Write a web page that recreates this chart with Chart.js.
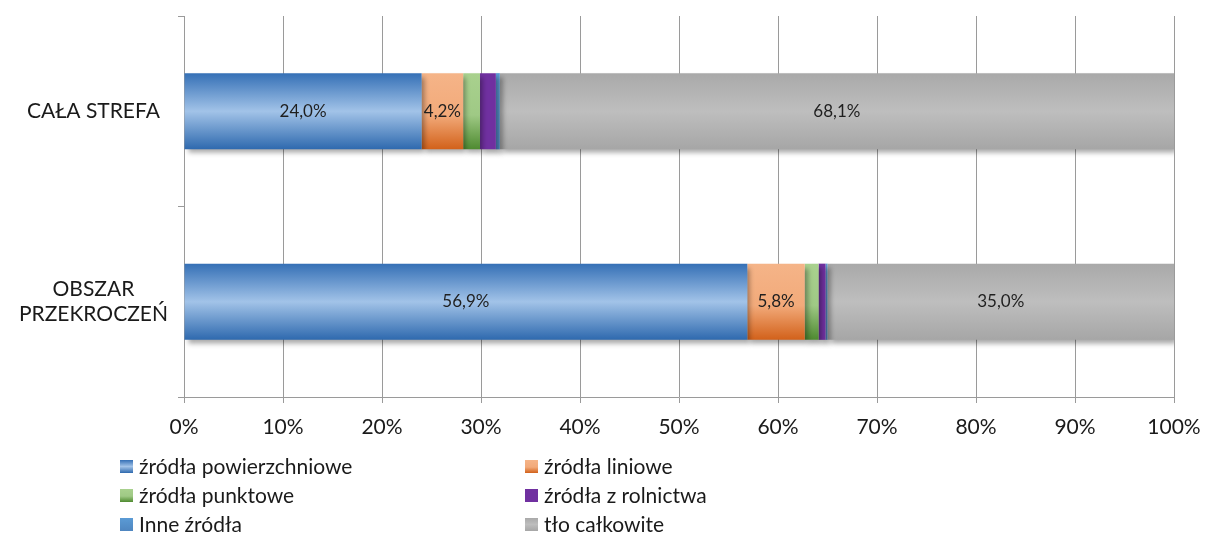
<!DOCTYPE html>
<html>
<head>
<meta charset="utf-8">
<script src="https://cdn.jsdelivr.net/npm/chart.js@4"></script>
<style>
	body { margin: 0; background: #fff; }
	#wrap { width: 1205px; height: 536px; }
</style>
</head>
<body>
<div id="wrap"><canvas id="myChart" width="1205" height="536"></canvas></div>
<script>
const categories = ["CAŁA STREFA", ["OBSZAR", "PRZEKROCZEŃ"]];
const seriesNames = [
	"źródła powierzchniowe",
	"źródła liniowe",
	"źródła punktowe",
	"źródła z rolnictwa",
	"Inne źródła",
	"tło całkowite",
];
const powierzchniowe = [24.0, 56.9];
const liniowe = [4.2, 5.8];
const punktowe = [1.7, 1.4];
const rolnictwo = [1.6, 0.7];
const inne = [0.4, 0.2];
const tlo = [68.1, 35.0];
const xTicks = [0, 10, 20, 30, 40, 50, 60, 70, 80, 90, 100];

// gradient stops for each series (top -> bottom of the bar)
const stops = [
	[[0, "#3570b6"], [0.5, "#a2c3e8"], [1, "#2e69ae"]],
	[[0, "#f5b488"], [0.55, "#f2aa7a"], [1, "#d2611a"]],
	[[0, "#a9d18e"], [0.55, "#9fc985"], [1, "#4e8a30"]],
	[[0, "#7030a0"], [1, "#7030a0"]],
	[[0, "#5b9bd5"], [1, "#4f86c0"]],
	[[0, "#a9a9a9"], [0.5, "#bebebe"], [1, "#a6a6a6"]],
];
const FONT = "Lato, 'Open Sans', sans-serif";

function barFill(i) {
	return function (c) {
		const chart = c.chart;
		const y = chart.scales && chart.scales.y;
		if (!chart.chartArea || !y || c.dataIndex === undefined) return stops[i][0][1];
		const mid = y.getPixelForValue(c.dataIndex);
		const h = (chart.chartArea.height / categories.length) * 0.4;
		const g = chart.ctx.createLinearGradient(0, mid - h / 2, 0, mid + h / 2);
		stops[i].forEach((s) => g.addColorStop(s[0], s[1]));
		return g;
	};
}

const allData = [powierzchniowe, liniowe, punktowe, rolnictwo, inne, tlo];

// shadow under bars
const shadowPlugin = {
	id: "shadow",
	beforeDatasetDraw(chart) {
		const ctx = chart.ctx;
		ctx.save();
		ctx.shadowColor = "rgba(0,0,0,0.35)";
		ctx.shadowBlur = 5;
		ctx.shadowOffsetX = 3;
		ctx.shadowOffsetY = 4;
	},
	afterDatasetDraw(chart) {
		chart.ctx.restore();
	},
};

// value labels in the middle of the big segments
const valuePlugin = {
	id: "values",
	afterDatasetsDraw(chart) {
		const ctx = chart.ctx;
		ctx.save();
		ctx.font = "17px " + FONT;
		ctx.fillStyle = "#1f1f1f";
		ctx.textAlign = "center";
		ctx.textBaseline = "middle";
		chart.data.datasets.forEach((ds, i) => {
			chart.getDatasetMeta(i).data.forEach((bar, j) => {
				const v = ds.data[j];
				if (v < 4) return;
				const cx = (bar.x + bar.base) / 2;
				ctx.fillText(v.toFixed(1).replace(".", ",") + "%", cx, bar.y);
			});
		});
		ctx.restore();
	},
};

// legend in two columns below the chart
const legendPlugin = {
	id: "legend2col",
	afterDraw(chart) {
		const ctx = chart.ctx;
		const cols = [120, 525];
		const rows = [466, 495, 524];
		ctx.save();
		ctx.font = "21px " + FONT;
		ctx.textBaseline = "middle";
		ctx.textAlign = "left";
		seriesNames.forEach((name, i) => {
			const x = cols[i % 2];
			const y = rows[Math.floor(i / 2)];
			const g = ctx.createLinearGradient(0, y - 6, 0, y + 7);
			stops[i].forEach((s) => g.addColorStop(s[0], s[1]));
			ctx.fillStyle = g;
			ctx.fillRect(x, y - 6, 13, 13);
			ctx.fillStyle = "#1a1a1a";
			ctx.fillText(name, x + 19, y + 1);
		});
		ctx.restore();
	},
};

const ctx = document.querySelector("#myChart").getContext("2d");
const chart = new Chart(ctx, {
	type: "bar",
	data: {
		labels: categories,
		datasets: allData.map((d, i) => ({
			label: seriesNames[i],
			data: d,
			backgroundColor: barFill(i),
			borderWidth: 0,
			barPercentage: 0.4,
			categoryPercentage: 1,
		})),
	},
	options: {
		indexAxis: "y",
		responsive: false,
		animation: false,
		devicePixelRatio: 1,
		layout: { padding: { top: 16, right: 31, bottom: 91, left: 0 } },
		plugins: {
			legend: { display: false },
			tooltip: { enabled: false },
		},
		scales: {
			x: {
				stacked: true,
				min: 0,
				max: 100,
				afterBuildTicks: (s) => {
					s.ticks = xTicks.map((v) => ({ value: v }));
				},
				afterFit: (s) => {
					s.height = 48;
					s.paddingLeft = 0;
					s.paddingRight = 0;
				},
				ticks: {
					callback: (v) => v + "%",
					font: { family: FONT, size: 21 },
					color: "#1a1a1a",
					padding: 12,
					maxRotation: 0,
				},
				grid: { color: "#9a9a9a", tickLength: 6, lineWidth: 1 },
				border: { color: "#9a9a9a" },
			},
			y: {
				stacked: true,
				afterFit: (s) => {
					s.width = 184;
					s.paddingTop = 0;
					s.paddingBottom = 0;
				},
				ticks: {
					font: { family: FONT, size: 21 },
					color: "#1a1a1a",
					crossAlign: "center",
					padding: 10,
				},
				grid: {
					offset: true,
					drawOnChartArea: false,
					tickLength: 6,
					color: "#9a9a9a",
				},
				border: { color: "#9a9a9a" },
			},
		},
	},
	plugins: [shadowPlugin, valuePlugin, legendPlugin],
});
</script>
</body>
</html>
